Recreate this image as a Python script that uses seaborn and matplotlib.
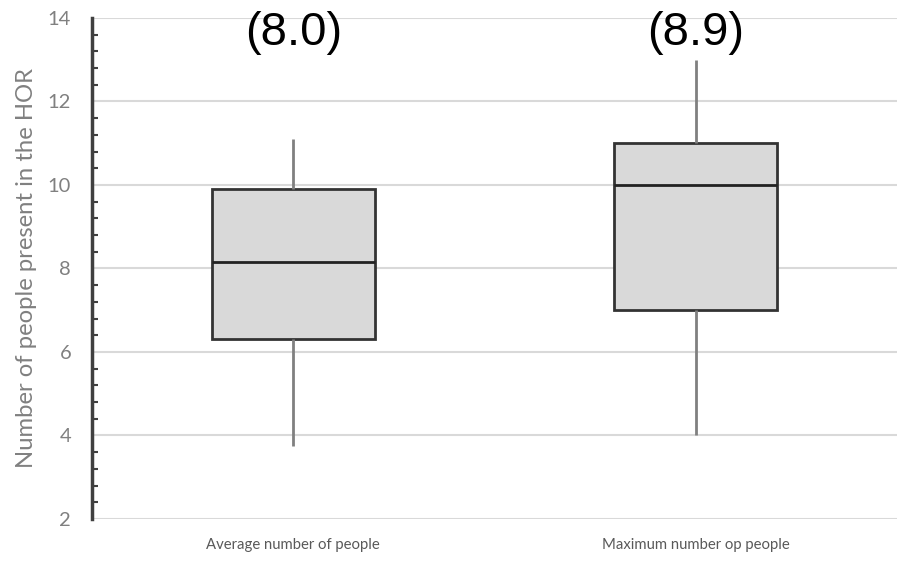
import pandas as pd
import seaborn as sns
import matplotlib.pyplot as plt
from matplotlib.ticker import MultipleLocator

# five-number summaries (min, Q1, median, Q3, max)
categories = ["Average number of people", "Maximum number op people"]
avg_stats = [3.75, 6.3, 8.15, 9.9, 11.1]
max_stats = [4.0, 7.0, 10.0, 11.0, 13.0]
mean_labels = ["(8.0)", "(8.9)"]

df = pd.DataFrame({
    "group": [categories[0]] * len(avg_stats) + [categories[1]] * len(max_stats),
    "value": avg_stats + max_stats,
})

sns.set_style("white")
plt.rcParams['font.family'] = ['Lato', 'DejaVu Sans']

fig = plt.figure(figsize=(8.97, 5.64), dpi=100)
ax = fig.add_axes([0.1026, 0.0798, 0.8974, 0.8883])

sns.boxplot(data=df, x="group", y="value", order=categories, whis=(0, 100),
            width=0.405, color="#d9d9d9", showcaps=False, ax=ax,
            boxprops=dict(facecolor="#d9d9d9", edgecolor="#333333", linewidth=2),
            medianprops=dict(color="#222222", linewidth=2),
            whiskerprops=dict(color="#808080", linewidth=2))

ax.set_ylim(2, 14)
ax.set_xlim(-0.5, 1.5)
ax.yaxis.set_major_locator(MultipleLocator(2))
ax.yaxis.set_minor_locator(MultipleLocator(0.4))
ax.grid(axis="y", color="#d9d9d9", linewidth=1.5)
ax.set_axisbelow(True)

for side in ["top", "right", "bottom"]:
    ax.spines[side].set_visible(False)
ax.spines["left"].set_color("#404040")
ax.spines["left"].set_linewidth(2.5)

ax.tick_params(axis="y", which="major", direction="out", length=7, width=2,
               color="#404040", labelsize=14.5, labelcolor="#808080", pad=8)
ax.tick_params(axis="y", which="minor", direction="in", length=4, width=1.5,
               color="#404040", left=True)
ax.tick_params(axis="x", length=0, labelsize=10.7, labelcolor="#595959", pad=14)

ax.set_xlabel("")
ax.set_ylabel("Number of people present in the HOR", fontsize=17.2, color="#808080",
              labelpad=8)

for i, lab in enumerate(mean_labels):
    ax.text(i, 13.64, lab, ha="center", va="center", fontsize=34,
            family="Liberation Sans", color="black", clip_on=False)

fig.savefig("out.png", dpi=100)
